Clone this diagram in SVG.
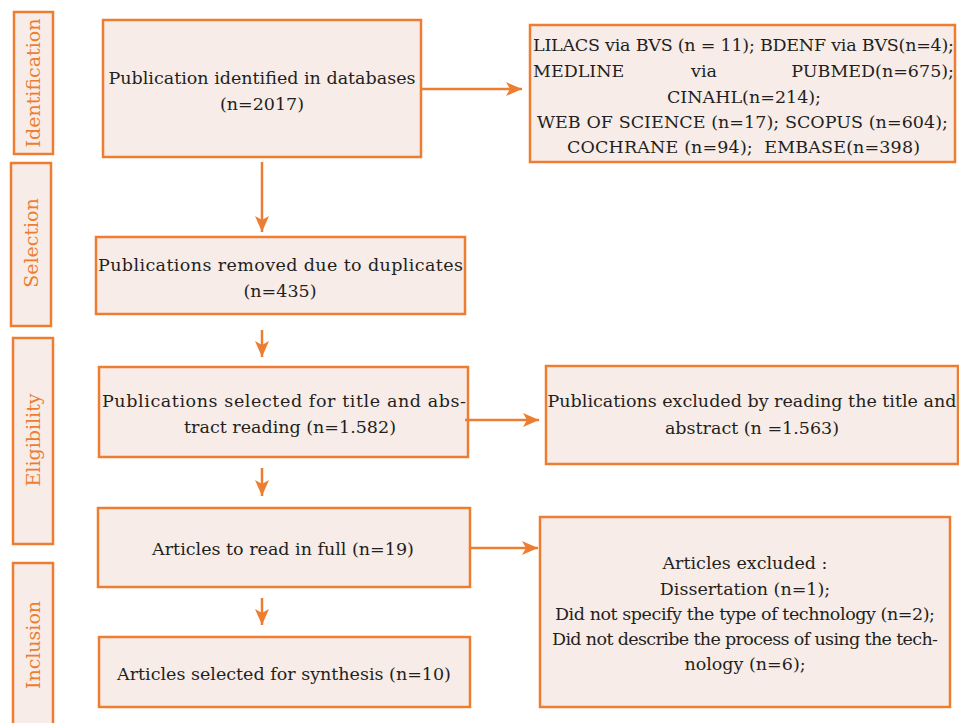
<svg xmlns="http://www.w3.org/2000/svg" width="959" height="723" viewBox="0 0 959 723">
<style>
.box{fill:#F8ECE8;stroke:#ED7D31;stroke-width:2.5}
.t{font-family:"DejaVu Serif","Liberation Serif",serif;font-size:17.5px;fill:#231F20;text-anchor:middle}
.tj{font-family:"DejaVu Serif","Liberation Serif",serif;font-size:17.5px;fill:#231F20}
.side{font-family:"DejaVu Serif","Liberation Serif",serif;font-size:19px;fill:#ED7D31;text-anchor:middle}
.con{stroke:#ED7D31;stroke-width:2.5;fill:none;marker-end:url(#arr)}
</style>
<defs>
<marker id="arr" viewBox="0 0 16 14" refX="16" refY="7" markerWidth="16" markerHeight="14" markerUnits="userSpaceOnUse" orient="auto">
<path d="M0,0 L16,7 L0,14 L4,7 z" fill="#ED7D31"/>
</marker>
</defs>
<rect width="959" height="723" fill="#ffffff"/>

<g id="side-identification">
<rect class="box" x="14" y="12" width="39" height="142"/>
<text class="side" transform="translate(40,83) rotate(-90)">Identification</text>
</g>
<g id="side-selection">
<rect class="box" x="11" y="163" width="40" height="163"/>
<text class="side" transform="translate(38,243) rotate(-90)">Selection</text>
</g>
<g id="side-eligibility">
<rect class="box" x="13" y="338" width="40" height="206"/>
<text class="side" transform="translate(40,440) rotate(-90)">Eligibility</text>
</g>
<g id="side-inclusion">
<rect class="box" x="13" y="563" width="40" height="170"/>
<text class="side" transform="translate(40,645) rotate(-90)">Inclusion</text>
</g>

<g id="n-identified">
<rect class="box" x="103" y="20" width="318" height="137"/>
<text class="t" x="262" y="84">Publication identified in databases</text>
<text class="t" x="262" y="110">(n=2017)</text>
</g>
<g id="n-databases">
<rect class="box" x="530" y="25" width="425" height="137"/>
<text class="tj" x="533" y="51" textLength="421" lengthAdjust="spacing">LILACS via BVS (n = 11); BDENF via BVS(n=4);</text>
<text class="tj" x="533" y="77">MEDLINE</text>
<text class="t" x="704" y="77">via</text>
<text class="tj" x="954" y="77" text-anchor="end">PUBMED(n=675);</text>
<text class="t" x="744" y="103">CINAHL(n=214);</text>
<text class="tj" x="537" y="128" textLength="411" lengthAdjust="spacing">WEB OF SCIENCE (n=17); SCOPUS (n=604);</text>
<text class="tj" x="567" y="153" textLength="353" lengthAdjust="spacing" xml:space="preserve">COCHRANE (n=94);  EMBASE(n=398)</text>
</g>
<g id="n-duplicates">
<rect class="box" x="96" y="237" width="369" height="77"/>
<text class="tj" x="98" y="271" textLength="365" lengthAdjust="spacing">Publications removed due to duplicates</text>
<text class="t" x="280" y="297">(n=435)</text>
</g>
<g id="n-selected">
<rect class="box" x="99" y="367" width="369" height="90"/>
<text class="tj" x="102" y="407" textLength="364" lengthAdjust="spacing">Publications selected for title and abs-</text>
<text class="t" x="290" y="433">tract reading (n=1.582)</text>
</g>
<g id="n-excluded-title">
<rect class="box" x="546" y="366" width="412" height="98"/>
<text class="t" x="752" y="407">Publications excluded by reading the title and</text>
<text class="t" x="752" y="434">abstract (n =1.563)</text>
</g>
<g id="n-fulltext">
<rect class="box" x="98" y="508" width="372" height="79"/>
<text class="t" x="283" y="555">Articles to read in full (n=19)</text>
</g>
<g id="n-excluded-full">
<rect class="box" x="540" y="517" width="410" height="190"/>
<text class="t" x="745" y="569">Articles excluded :</text>
<text class="t" x="745" y="595">Dissertation (n=1);</text>
<text class="tj" x="555" y="620" textLength="380" lengthAdjust="spacing">Did not specify the type of technology (n=2);</text>
<text class="tj" x="552" y="645" textLength="386" lengthAdjust="spacing">Did not describe the process of using the tech-</text>
<text class="t" x="745" y="670">nology (n=6);</text>
</g>
<g id="n-synthesis">
<rect class="box" x="99" y="637" width="371" height="70"/>
<text class="t" x="284" y="680">Articles selected for synthesis (n=10)</text>
</g>

<g id="connectors">
<line class="con" x1="421" y1="89" x2="522" y2="89"/>
<line class="con" x1="262" y1="162" x2="262" y2="232"/>
<line class="con" x1="262" y1="330" x2="262" y2="357"/>
<line class="con" x1="465" y1="420" x2="539" y2="420"/>
<line class="con" x1="262" y1="468" x2="262" y2="496"/>
<line class="con" x1="470" y1="548" x2="538" y2="548"/>
<line class="con" x1="262" y1="598" x2="262" y2="625"/>
</g>
</svg>
